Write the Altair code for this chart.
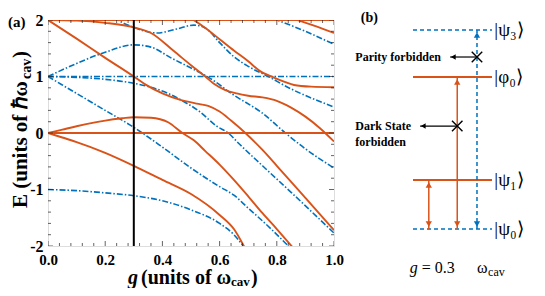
import altair as alt
import pandas as pd

ORANGE = "#D95319"
BLUE = "#0072BD"
SERIF = "Liberation Serif"

# ---------------- panel (a): energy branches ----------------
# orange (solid) branches
oFlat0_g = [0.0, 1.0]
oFlat0_E = [0.0, 0.0]
oFlat2_g = [0.0, 1.0]
oFlat2_E = [2.0, 2.0]
oA_g = [0.0, 0.1, 0.2, 0.3, 0.36, 0.44, 0.5, 0.55, 0.58, 0.62, 0.66, 0.7, 0.75, 0.8, 0.85, 0.9, 0.95, 1.0]
oA_E = [2.0, 1.99, 1.95, 1.87, 1.77, 1.45, 1.2, 1.0, 0.87, 0.76, 0.7, 0.66, 0.63, 0.57, 0.45, 0.29, 0.09, -0.15]
oB_g = [0.0, 0.1, 0.2, 0.3, 0.34, 0.4, 0.46, 0.52, 0.56, 0.6, 0.64, 0.69, 0.75, 0.8, 0.9, 1.0]
oB_E = [2.0, 1.67, 1.33, 1.0, 0.86, 0.7, 0.59, 0.52, 0.48, 0.38, 0.22, 0.0, -0.3, -0.58, -1.15, -1.72]
oC_g = [0.0, 0.05, 0.1, 0.2, 0.26, 0.3, 0.36, 0.42, 0.47, 0.51, 0.55, 0.6, 0.65, 0.7, 0.75, 0.8, 0.86]
oC_E = [0.0, 0.06, 0.12, 0.22, 0.26, 0.28, 0.27, 0.19, 0.0, -0.13, -0.32, -0.56, -0.83, -1.12, -1.42, -1.7, -2.05]
oD_g = [0.0, 0.05, 0.1, 0.2, 0.3, 0.4, 0.5, 0.6, 0.65, 0.69]
oD_E = [0.0, -0.08, -0.16, -0.35, -0.58, -0.83, -1.08, -1.45, -1.7, -2.05]
oE_g = [0.5, 0.55, 0.6, 0.65, 0.7, 0.74, 0.79, 0.83, 0.86, 0.92, 1.0]
oE_E = [2.03, 1.86, 1.66, 1.46, 1.27, 1.1, 0.98, 0.9, 0.85, 0.82, 0.81]
oF_g = [0.86, 0.93, 1.0]
oF_E = [2.02, 1.9, 1.77]

# blue (dash-dot) branches
bFlat1_g = [0.0, 1.0]
bFlat1_E = [1.0, 1.0]
bUp_g = [0.0, 0.1, 0.2, 0.3, 0.36, 0.43, 0.5, 0.56, 0.65, 0.75, 0.83, 0.9, 1.0]
bUp_E = [1.0, 1.23, 1.43, 1.56, 1.52, 1.33, 1.15, 0.99, 0.67, 0.35, 0.0, -0.28, -0.62]
bSlight_g = [0.0, 0.1, 0.2, 0.3, 0.36, 0.42, 0.47, 0.53, 0.59, 0.63, 0.67, 0.75, 0.85, 1.0]
bSlight_E = [1.0, 0.985, 0.95, 0.88, 0.81, 0.7, 0.57, 0.38, 0.12, 0.0, -0.2, -0.58, -1.05, -1.77]
bDown_g = [0.0, 0.1, 0.2, 0.3, 0.33, 0.4, 0.5, 0.6, 0.65, 0.7, 0.77, 0.85]
bDown_E = [1.0, 0.7, 0.4, 0.1, 0.0, -0.25, -0.62, -0.95, -1.1, -1.33, -1.65, -2.05]
bM1_g = [0.0, 0.1, 0.2, 0.3, 0.4, 0.5, 0.6, 0.65, 0.69]
bM1_E = [-1.0, -1.02, -1.06, -1.11, -1.2, -1.36, -1.6, -1.8, -2.05]
bTop1_g = [0.23, 0.27, 0.3, 0.34, 0.38, 0.45, 0.51, 0.55, 0.6, 0.65, 0.7, 0.77, 0.85, 0.92, 1.0]
bTop1_E = [2.05, 1.93, 1.87, 1.8, 1.77, 1.84, 1.91, 1.86, 1.6, 1.35, 1.18, 1.0, 0.78, 0.62, 0.46]
bTop2_g = [0.79, 0.9, 1.0]
bTop2_E = [2.02, 1.8, 1.57]

g_marker = [0.3]

# axis ticks
x_major = [0.0, 0.2, 0.4, 0.6, 0.8, 1.0]
x_minor = [0.04, 0.08, 0.12, 0.16, 0.24, 0.28, 0.32, 0.36, 0.44, 0.48, 0.52, 0.56,
           0.64, 0.68, 0.72, 0.76, 0.84, 0.88, 0.92, 0.96]
y_major = [-2, -1, 0, 1, 2]
y_minor = [-1.8, -1.6, -1.4, -1.2, -0.8, -0.6, -0.4, -0.2, 0.2, 0.4, 0.6, 0.8,
           1.2, 1.4, 1.6, 1.8]

# texts
panel_a = "(a)"
panel_b = "(b)"
xt_g, xt_main, xt_sub, xt_end = "g", "(units of ω", "cav", ")"
yt_main, yt_sub, yt_end = "E (units of ℏω", "cav", ")"

# ---------------- panel (b): schematic level diagram ----------------
blue_level_names = ["|ψ₃⟩", "|ψ₀⟩"]
blue_level_y = [4.06, 0.0]
orange_level_names = ["|φ₀⟩", "|ψ₁⟩"]
orange_level_y = [3.1, 1.0]
level_x = [0.0, 1.0]
ket_x = 1.03

orange_tr_x = [0.2, 0.56]
orange_tr_from = [0.0, 0.0]
orange_tr_to = [1.0, 3.1]
blue_tr_x = [0.81]
blue_tr_from = [0.0]
blue_tr_to = [4.06]

forb_text = [["Parity forbidden"], ["Dark State", "forbidden"]]
forb_x = [0.81, 0.56]
forb_y = [3.51, 2.1]
forb_tip = [0.47, 0.09]
forb_text_x = -0.73

g_text = ["g", "= 0.3", "ω", "cav"]

# ---------------- build tables ----------------
rows = []
for name, gs, Es, kind in [
    ("oFlat0", oFlat0_g, oFlat0_E, "o"), ("oFlat2", oFlat2_g, oFlat2_E, "o"),
    ("oA", oA_g, oA_E, "o"), ("oB", oB_g, oB_E, "o"), ("oC", oC_g, oC_E, "o"),
    ("oD", oD_g, oD_E, "o"), ("oE", oE_g, oE_E, "o"), ("oF", oF_g, oF_E, "o"),
    ("bFlat1", bFlat1_g, bFlat1_E, "b"), ("bUp", bUp_g, bUp_E, "b"),
    ("bSlight", bSlight_g, bSlight_E, "b"), ("bDown", bDown_g, bDown_E, "b"),
    ("bM1", bM1_g, bM1_E, "b"), ("bTop1", bTop1_g, bTop1_E, "b"), ("bTop2", bTop2_g, bTop2_E, "b"),
]:
    for g, E in zip(gs, Es):
        rows.append({"curve": name, "g": g, "E": E, "kind": kind})
df = pd.DataFrame(rows)
df_o = df[df.kind == "o"]
df_b = df[df.kind == "b"]

xs = alt.Scale(domain=[0, 1], nice=False, zero=False)
ys = alt.Scale(domain=[-2, 2], nice=False, zero=False)

axis_x = alt.Axis(values=x_major, format=".1f", title=None, ticks=False, domain=False, grid=False,
                  labelFont=SERIF, labelFontSize=15, labelFontWeight="bold", labelColor="black",
                  labelPadding=6, labelFlush=False)
axis_y = alt.Axis(values=y_major, labelExpr="'' + datum.value", title=None, ticks=False, domain=False,
                  grid=False, labelFont=SERIF, labelFontSize=16, labelFontWeight="bold",
                  labelColor="black", labelPadding=5, labelFlush=False)

blue_lines = alt.Chart(df_b).mark_line(
    color=BLUE, strokeWidth=1.6, strokeDash=[6, 2, 1.5, 2], interpolate="monotone", clip=True
).encode(x=alt.X("g:Q", scale=xs, axis=axis_x), y=alt.Y("E:Q", scale=ys, axis=axis_y),
         detail="curve:N")

orange_lines = alt.Chart(df_o).mark_line(
    color=ORANGE, strokeWidth=1.9, interpolate="monotone", clip=True
).encode(x=alt.X("g:Q", scale=xs), y=alt.Y("E:Q", scale=ys), detail="curve:N")

marker = alt.Chart(pd.DataFrame({"g": g_marker})).mark_rule(color="black", strokeWidth=2).encode(
    x=alt.X("g:Q", scale=xs))

xt = pd.DataFrame({"g": x_major + x_minor, "len": [10] * len(x_major) + [6] * len(x_minor)})
yt = pd.DataFrame({"E": y_major + y_minor, "len": [10] * len(y_major) + [6] * len(y_minor)})
tick_layers = []
for yv in (-2, 2):
    tick_layers.append(alt.Chart(xt).mark_tick(orient="vertical", color="#222", thickness=1, clip=True).encode(
        x=alt.X("g:Q", scale=xs), y=alt.datum(yv), size=alt.Size("len:Q", scale=None)))
for xv in (0, 1):
    tick_layers.append(alt.Chart(yt).mark_tick(orient="horizontal", color="#222", thickness=1, clip=True).encode(
        y=alt.Y("E:Q", scale=ys), x=alt.datum(xv), size=alt.Size("len:Q", scale=None)))


def ptext(text, x, y, size, weight="bold", style="normal", angle=0, align="left", baseline="alphabetic"):
    return alt.Chart(pd.DataFrame({"t": [text]})).mark_text(
        font=SERIF, fontSize=size, fontWeight=weight, fontStyle=style, angle=angle,
        align=align, baseline=baseline, color="black"
    ).encode(text="t:N", x=alt.value(x), y=alt.value(y))


texts_a = [
    ptext(panel_a, -40, 2, 15, baseline="middle"),
    ptext(xt_g, 80, 264, 20, style="italic"),
    ptext(xt_main, 93, 264, 20),
    ptext(xt_sub, 183, 266, 13),
    ptext(xt_end, 203, 264, 20),
    ptext(yt_main, -21, 188, 21, angle=270),
    ptext(yt_sub, -17, 59, 14, angle=270),
    ptext(yt_end, -21, 38, 21, angle=270),
]

left = alt.layer(blue_lines, orange_lines, marker, *tick_layers, *texts_a)

# ---------------- panel (b) layers ----------------
dxs = alt.Scale(domain=[0, 1], range=[365, 444], nice=False, zero=False)
dys = alt.Scale(domain=[0, 4], range=[209, 13], nice=False, zero=False)


def DX(f):
    return alt.X(f, type="quantitative", scale=dxs, axis=None)


def DY(f):
    return alt.Y(f, type="quantitative", scale=dys, axis=None)


blue_lv = pd.DataFrame({"dx": [level_x[0]] * 2, "dx2": [level_x[1]] * 2, "dy": blue_level_y,
                        "t": blue_level_names, "kx": [ket_x] * 2})
orange_lv = pd.DataFrame({"dx": [level_x[0]] * 2, "dx2": [level_x[1]] * 2, "dy": orange_level_y,
                          "t": orange_level_names, "kx": [ket_x] * 2})

lv_b = alt.Chart(blue_lv).mark_rule(color=BLUE, strokeWidth=1.6, strokeDash=[4, 3]).encode(
    x=DX("dx"), x2="dx2", y=DY("dy"))
lv_o = alt.Chart(orange_lv).mark_rule(color=ORANGE, strokeWidth=2).encode(
    x=DX("dx"), x2="dx2", y=DY("dy"))
kets = alt.Chart(pd.concat([blue_lv, orange_lv])).mark_text(
    font=SERIF, fontSize=19, align="left", baseline="middle", color="black").encode(
    x=DX("kx"), y=DY("dy"), text="t:N")

otr = pd.DataFrame({"dx": orange_tr_x, "dy": orange_tr_from, "dy2": orange_tr_to})
btr = pd.DataFrame({"dx": blue_tr_x, "dy": blue_tr_from, "dy2": blue_tr_to})
tr_o = alt.Chart(otr).mark_rule(color=ORANGE, strokeWidth=1.5).encode(x=DX("dx"), y=DY("dy"), y2="dy2")
tr_b = alt.Chart(btr).mark_rule(color=BLUE, strokeWidth=1.5, strokeDash=[4, 3]).encode(
    x=DX("dx"), y=DY("dy"), y2="dy2")

head_up = pd.DataFrame({"dx": orange_tr_x + blue_tr_x,
                        "dy": [v - 0.1 for v in orange_tr_to + blue_tr_to],
                        "c": ["o", "o", "b"]})
head_dn = pd.DataFrame({"dx": orange_tr_x + blue_tr_x,
                        "dy": [v + 0.1 for v in orange_tr_from + blue_tr_from],
                        "c": ["o", "o", "b"]})
heads = []
for dfh, shp in ((head_up, "triangle-up"), (head_dn, "triangle-down")):
    heads.append(alt.Chart(dfh[dfh.c == "o"]).mark_point(
        shape=shp, filled=True, size=40, opacity=1, color=ORANGE).encode(x=DX("dx"), y=DY("dy")))
    heads.append(alt.Chart(dfh[dfh.c == "b"]).mark_point(
        shape=shp, filled=True, size=40, opacity=1, color=BLUE).encode(x=DX("dx"), y=DY("dy")))

fb = pd.DataFrame({"dx": forb_x, "dx2": forb_tip, "dy": forb_y})
fb_rule = alt.Chart(fb).mark_rule(color="black", strokeWidth=1.2).encode(x=DX("dx"), x2="dx2", y=DY("dy"))
fb_head = alt.Chart(pd.DataFrame({"dx": [v + 0.04 for v in forb_tip], "dy": forb_y})).mark_point(
    shape="triangle-left", filled=True, size=30, opacity=1, color="black").encode(x=DX("dx"), y=DY("dy"))
fb_x = alt.Chart(fb).mark_point(shape="M-1,-1L1,1M-1,1L1,-1", filled=False, size=110, opacity=1,
                                color="black", strokeWidth=1.4).encode(x=DX("dx"), y=DY("dy"))

fb_text_rows = []
for lines, yv in zip(forb_text, forb_y):
    for i, line in enumerate(lines):
        fb_text_rows.append({"dx": forb_text_x, "dy": yv - 0.33 * i, "t": line})
fb_text = alt.Chart(pd.DataFrame(fb_text_rows)).mark_text(
    font=SERIF, fontSize=12, fontWeight="bold", align="left", baseline="middle", color="black").encode(
    x=DX("dx"), y=DY("dy"), text="t:N")


def dtext(text, x, y, size, weight="normal", style="normal"):
    return alt.Chart(pd.DataFrame({"t": [text], "dx": [x], "dy": [y]})).mark_text(
        font=SERIF, fontSize=size, fontWeight=weight, fontStyle=style, align="left",
        baseline="middle", color="black").encode(x=DX("dx"), y=DY("dy"), text="t:N")


texts_b = [
    dtext(panel_b, -0.66, 4.3, 14, weight="bold"),
    dtext(g_text[0], -0.04, -0.8, 16, style="italic"),
    dtext(g_text[1], 0.11, -0.8, 16),
    dtext(g_text[2], 0.81, -0.8, 16),
    dtext(g_text[3], 0.95, -0.88, 12),
]

right = alt.layer(lv_b, lv_o, tr_o, tr_b, *heads, fb_rule, fb_head, fb_x, kets, fb_text, *texts_b)

chart = alt.layer(left, right).resolve_scale(x="independent", y="independent").properties(
    width=286, height=226,
    autosize=alt.AutoSizeParams(type="none"),
    padding={"left": 40, "top": 12, "right": 203, "bottom": 42},
).configure_view(stroke="black", strokeWidth=1.5).configure(background="white")

chart.save("out.html", embed_options={"renderer": "svg", "actions": False})
